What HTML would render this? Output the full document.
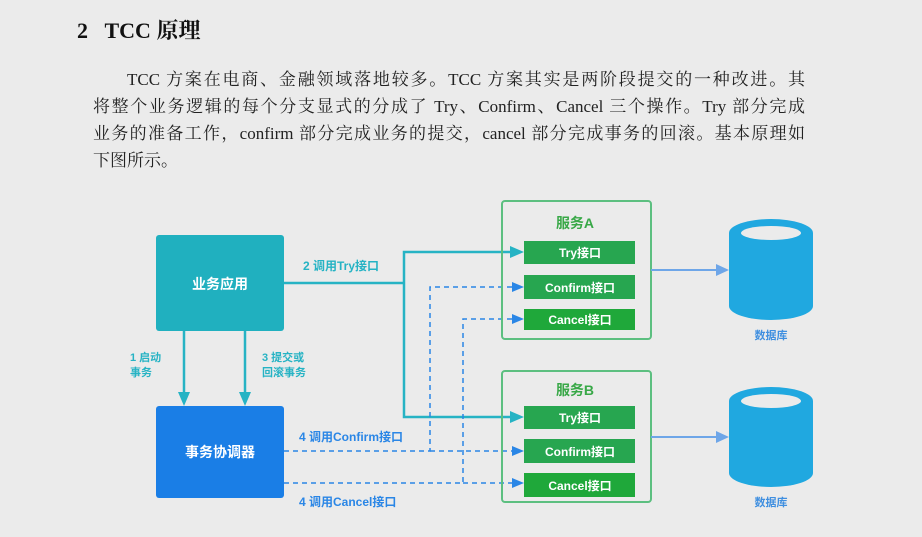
<!DOCTYPE html>
<html><head><meta charset="utf-8"><style>
html,body{margin:0;padding:0;background:#ebebeb;width:922px;height:537px;overflow:hidden}
.h{position:absolute;left:77px;top:14px;font:bold 22px "Liberation Serif","Noto Serif CJK SC",serif;color:#111}
.l{position:absolute;font:17px/27px "Liberation Serif","Noto Serif CJK SC",serif;color:#222;text-align:justify;text-align-last:justify;white-space:nowrap;overflow:visible}
svg{position:absolute;left:0;top:0}
</style></head><body>
<div class="h">2&nbsp;&nbsp;&nbsp;TCC 原理</div>
<div class="l" style="left:127px;top:66px;width:678px">TCC 方案在电商、金融领域落地较多。TCC 方案其实是两阶段提交的一种改进。其</div>
<div class="l" style="left:93px;top:93px;width:712px">将整个业务逻辑的每个分支显式的分成了 Try、Confirm、Cancel 三个操作。Try 部分完成</div>
<div class="l" style="left:93px;top:120px;width:712px">业务的准备工作，confirm 部分完成业务的提交，cancel 部分完成事务的回滚。基本原理如</div>
<div class="l" style="left:93px;top:147px;text-align-last:left">下图所示。</div>
<svg width="922" height="537" viewBox="0 0 922 537" font-family="Liberation Sans,Noto Sans CJK SC,sans-serif" font-weight="bold">
<rect x="156" y="235" width="128" height="96" rx="3" fill="#20b0bf"/>
<text x="220" y="289" fill="#fff" font-size="14" text-anchor="middle">业务应用</text>
<rect x="156" y="406" width="128" height="92" rx="3" fill="#1a7ee6"/>
<text x="220" y="457" fill="#fff" font-size="14" text-anchor="middle">事务协调器</text>
<g stroke="#26b3c4" stroke-width="2.5" fill="none">
<line x1="184" y1="331" x2="184" y2="395"/><line x1="245" y1="331" x2="245" y2="395"/>
</g>
<path d="M178,392L184,406L190,392z M239,392L245,406L251,392z" fill="#26b3c4"/>
<g fill="#26b3c4" font-size="11">
<text x="130" y="361">1 启动</text><text x="130" y="376">事务</text>
<text x="262" y="361">3 提交或</text><text x="262" y="376">回滚事务</text>
<text x="303" y="270" font-size="12">2 调用Try接口</text>
</g>
<g fill="#2a86e6" font-size="12">
<text x="299" y="441">4 调用Confirm接口</text>
<text x="299" y="506">4 调用Cancel接口</text>
</g>
<path d="M284,283H404V252H512 M404,283V417H512" stroke="#26b3c4" stroke-width="2.5" fill="none"/>
<path d="M510,246L524,252L510,258z M510,411L524,417L510,423z" fill="#26b3c4"/>
<g stroke="#2a86e6" stroke-width="1.5" stroke-dasharray="5,4" fill="none">
<path d="M284,451H430V287H512"/><path d="M430,451H512"/>
<path d="M284,483H463V319H512"/><path d="M463,483H512"/>
</g>
<path d="M512,282L524,287L512,292z M512,314L524,319L512,324z M512,446L524,451L512,456z M512,478L524,483L512,488z" fill="#2a86e6"/>
<rect x="502" y="201" width="149" height="138" rx="3" fill="none" stroke="#5cbf80" stroke-width="2"/>
<rect x="502" y="371" width="149" height="131" rx="3" fill="none" stroke="#5cbf80" stroke-width="2"/>
<text x="575" y="228" fill="#38a847" font-size="14" text-anchor="middle">服务A</text>
<text x="575" y="395" fill="#38a847" font-size="14" text-anchor="middle">服务B</text>
<g fill="#27a650">
<rect x="524" y="241" width="111" height="23"/><rect x="524" y="275" width="111" height="24"/><rect x="524" y="309" width="111" height="21" fill="#1fa83a"/>
<rect x="524" y="406" width="111" height="23"/><rect x="524" y="439" width="111" height="24"/><rect x="524" y="473" width="111" height="24" fill="#1fa83a"/>
</g>
<g fill="#fff" font-size="12" text-anchor="middle">
<text x="580" y="257">Try接口</text><text x="580" y="292">Confirm接口</text><text x="580" y="324">Cancel接口</text>
<text x="580" y="422">Try接口</text><text x="580" y="456">Confirm接口</text><text x="580" y="490">Cancel接口</text>
</g>
<g stroke="#6ea6e8" stroke-width="2"><line x1="651" y1="270" x2="718" y2="270"/><line x1="651" y1="437" x2="718" y2="437"/></g>
<path d="M716,264L729,270L716,276z M716,431L729,437L716,443z" fill="#6ea6e8"/>
<g fill="#20a8e0">
<path d="M729,233A42,14 0 0 1 813,233V306A42,14 0 0 1 729,306Z"/>
<path d="M729,401A42,14 0 0 1 813,401V473A42,14 0 0 1 729,473Z"/>
</g>
<ellipse cx="771" cy="233" rx="30" ry="7" fill="#ebebeb"/>
<ellipse cx="771" cy="401" rx="30" ry="7" fill="#ebebeb"/>
<g fill="#3f8fe0" font-size="11" text-anchor="middle"><text x="771" y="339">数据库</text><text x="771" y="506">数据库</text></g>
</svg>
</body></html>
